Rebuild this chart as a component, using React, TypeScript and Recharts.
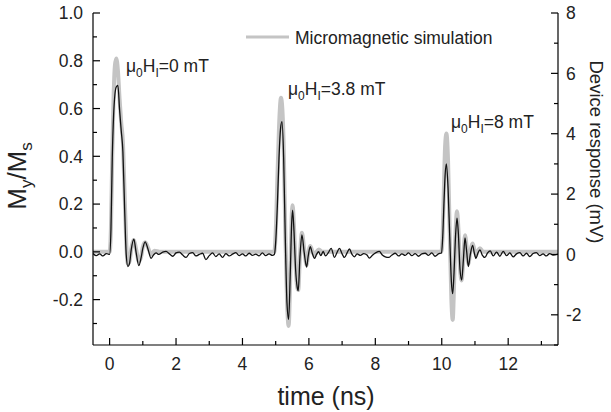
import { LineChart, Line, XAxis, YAxis } from 'recharts';

const FONT = '"Liberation Sans", Arial, Helvetica, sans-serif';

// micromagnetic simulation, M_y/M_s (left axis)
const simTime = [
  -0.5, 0.0,
  0.04, 0.08, 0.12, 0.16, 0.2, 0.25, 0.3, 0.35, 0.4, 0.45, 0.5, 0.55, 0.6, 0.65, 0.73, 0.8, 0.88, 0.95, 1.0, 1.07, 1.15, 1.25, 1.35, 1.5,
  4.96, 5.0, 5.05, 5.1, 5.16, 5.2, 5.24, 5.29, 5.34, 5.39, 5.44, 5.48, 5.51, 5.55, 5.6, 5.65, 5.68, 5.73, 5.79, 5.86, 5.93, 5.98, 6.04, 6.1, 6.17, 6.23, 6.3, 6.4,
  9.99, 10.03, 10.07, 10.1, 10.14, 10.19, 10.24, 10.29, 10.33, 10.37, 10.41, 10.46, 10.5, 10.55, 10.6, 10.65, 10.7, 10.75, 10.8, 10.86, 10.93, 10.98, 11.03, 11.09, 11.15, 11.25,
  13.5,
];
const simMy = [
  0, 0,
  0.1, 0.4, 0.65, 0.78, 0.81, 0.76, 0.64, 0.54, 0.46, 0.25, 0.04, -0.05, -0.04, 0.01, 0.05, 0.01, -0.04, -0.02, 0.02, 0.04, 0.02, -0.01, 0.005, 0,
  0, 0.08, 0.3, 0.52, 0.645, 0.6, 0.45, 0.08, -0.2, -0.31, -0.1, 0.14, 0.195, 0.11, -0.06, -0.15, -0.16, -0.02, 0.08, 0.01, -0.055, -0.01, 0.025, 0.005, -0.015, 0, 0.01, 0,
  0, 0.08, 0.3, 0.44, 0.495, 0.38, 0.08, -0.2, -0.285, -0.14, 0.06, 0.17, 0.1, -0.07, -0.12, -0.03, 0.07, 0.02, -0.05, 0, 0.035, 0.01, -0.015, 0.005, 0.015, 0,
  0,
];

// measured device response, mV (right axis)
const devTime = [
  -0.5, -0.4, -0.3, -0.2, -0.1, 0.0,
  0.04, 0.08, 0.12, 0.16, 0.2, 0.25, 0.3, 0.35, 0.4, 0.45, 0.5, 0.55, 0.6, 0.65, 0.73, 0.8, 0.88, 0.95, 1.0, 1.07, 1.15, 1.25, 1.32, 1.4, 1.48,
  1.6, 1.7, 1.8, 1.9, 2.0, 2.1, 2.2, 2.3, 2.4, 2.5, 2.6, 2.7, 2.8, 2.9, 3.0, 3.1, 3.2, 3.3, 3.4, 3.5, 3.6, 3.7, 3.8, 3.9, 4.0, 4.1, 4.2, 4.3, 4.4, 4.5, 4.6, 4.7, 4.8, 4.9,
  4.96, 5.0, 5.05, 5.1, 5.15, 5.19, 5.24, 5.29, 5.34, 5.39, 5.44, 5.48, 5.51, 5.55, 5.6, 5.65, 5.68, 5.73, 5.79, 5.86, 5.93, 5.98, 6.04, 6.1, 6.17, 6.23, 6.29, 6.36,
  6.43, 6.5, 6.58, 6.67, 6.77, 6.84, 6.92, 7.0, 7.07, 7.15, 7.22, 7.3, 7.37, 7.45, 7.55, 7.65, 7.75, 7.82, 7.92, 8.02, 8.12, 8.22, 8.3, 8.4,
  8.5, 8.6, 8.7, 8.8, 8.9, 9.0, 9.1, 9.2, 9.3, 9.4, 9.5, 9.6, 9.7, 9.8, 9.9,
  9.99, 10.03, 10.07, 10.1, 10.14, 10.19, 10.24, 10.29, 10.33, 10.37, 10.41, 10.46, 10.5, 10.55, 10.6, 10.65, 10.7, 10.75, 10.8, 10.86, 10.93, 10.98, 11.03, 11.09, 11.15, 11.22,
  11.3, 11.38, 11.46, 11.55, 11.65, 11.75, 11.85, 11.95, 12.05, 12.15, 12.25, 12.35, 12.45, 12.55, 12.65, 12.75, 12.85, 12.95, 13.05, 13.15, 13.25, 13.35, 13.5,
];
const devMv = [
  0.03, -0.04, 0.02, -0.05, 0.03, 0.0,
  0.8, 3.2, 4.6, 5.3, 5.55, 5.6, 4.8, 4.1, 3.4, 1.6, 0.0, -0.4, -0.3, 0.15, 0.51, 0.05, -0.37, -0.1, 0.2, 0.42, 0.2, -0.13, -0.02, 0.05, 0.0,
  0.08, 0.1, 0.02, -0.06, 0.05, 0.08, -0.02, -0.1, 0.03, 0.06, -0.05, 0.0, 0.04, -0.17, -0.04, 0.05, -0.07, 0.02, -0.1, 0.03, -0.05, 0.01, 0.06, -0.04, 0.02, -0.05, 0.04, -0.03, 0.01, -0.05, 0.05, -0.04, 0.02, -0.03,
  0.0, 0.4, 1.6, 3.2, 4.2, 4.4, 3.2, 0.5, -1.6, -2.15, -0.6, 1.0, 1.47, 0.8, -0.5, -1.1, -1.2, -0.1, 0.65, 0.05, -0.42, -0.05, 0.26, 0.05, -0.13, 0.0, 0.09, -0.04,
  0.1, -0.05, 0.05, 0.2, -0.1, 0.05, 0.2, 0.02, -0.1, 0.05, 0.18, 0.0, -0.08, 0.02, -0.03, 0.03, -0.02, -0.12, -0.02, 0.06, 0.1, -0.03, -0.08, -0.1,
  -0.02, 0.04, -0.05, 0.02, -0.03, 0.05, -0.04, 0.03, -0.06, 0.02, 0.04, -0.03, 0.05, -0.06, 0.02,
  0.05, 0.6, 1.8, 2.6, 3.0, 2.2, 0.6, -0.9, -1.3, -0.6, 0.5, 1.2, 0.7, -0.5, -0.85, -0.2, 0.55, 0.1, -0.4, 0.0, 0.3, 0.05, -0.13, 0.05, 0.15, -0.02,
  -0.1, 0.05, 0.12, -0.05, 0.08, -0.06, 0.1, -0.04, 0.05, -0.08, 0.02, 0.06, -0.05, 0.04, -0.07, 0.03, 0.06, -0.04, 0.02, -0.05, 0.03, -0.02, 0.01,
];

const xTicks = [0, 1, 2, 3, 4, 5, 6, 7, 8, 9, 10, 11, 12, 13];
const leftTicks = [-0.3, -0.2, -0.1, 0, 0.1, 0.2, 0.3, 0.4, 0.5, 0.6, 0.7, 0.8, 0.9, 1.0];
const rightTicks = [-3, -2, -1, 0, 1, 2, 3, 4, 5, 6, 7, 8];

const simData = simTime.map((t, i) => ({ t, my: simMy[i] }));
const devData = devTime.map((t, i) => ({ t, mv: devMv[i] }));

const tickFont = { fontSize: 17.5, fontFamily: FONT, fill: '#222' };

function BottomTick({ x, y, payload }: any) {
  const v = payload.value;
  const major = v % 2 === 0;
  return (
    <g>
      <line x1={x} x2={x} y1={y} y2={y - (major ? 7 : 4)} stroke="#000" strokeWidth={1.2} />
      {major && (
        <text x={x} y={y + 25} textAnchor="middle" {...tickFont}>
          {v}
        </text>
      )}
    </g>
  );
}

function TopTick({ x, y, payload }: any) {
  const major = payload.value % 2 === 0;
  return <line x1={x} x2={x} y1={y} y2={y + (major ? 7 : 4)} stroke="#000" strokeWidth={1.2} />;
}

function LeftTick({ x, y, payload }: any) {
  const v = payload.value;
  const major = Math.abs(Math.round(v * 10)) % 2 === 0;
  return (
    <g>
      <line x1={x} x2={x + (major ? 7 : 4)} y1={y} y2={y} stroke="#000" strokeWidth={1.2} />
      {major && (
        <text x={x - 10} y={y} dy="0.36em" textAnchor="end" {...tickFont}>
          {v.toFixed(1)}
        </text>
      )}
    </g>
  );
}

function RightTick({ x, y, payload }: any) {
  const v = payload.value;
  const major = Math.abs(v) % 2 === 0;
  return (
    <g>
      <line x1={x} x2={x - (major ? 7 : 4)} y1={y} y2={y} stroke="#000" strokeWidth={1.2} />
      {major && (
        <text x={x + 8} y={y} dy="0.36em" textAnchor="start" {...tickFont}>
          {v}
        </text>
      )}
    </g>
  );
}

function FieldLabel({ x, y, value }: { x: number; y: number; value: string }) {
  return (
    <text x={x} y={y} fontSize={17.5} fontFamily={FONT} fill="#222">
      μ
      <tspan fontSize={12} dy={5}>0</tspan>
      <tspan dy={-5}>H</tspan>
      <tspan fontSize={12} dy={5}>I</tspan>
      <tspan dy={-5}>={value} mT</tspan>
    </text>
  );
}

export default function App() {
  return (
    <div style={{ position: 'absolute', left: 0, top: 0, width: 611, height: 412, background: '#fff' }}>
      <LineChart width={611} height={412} margin={{ top: 13, right: 0, bottom: 0, left: 0 }}>
        <XAxis
          xAxisId="bottom"
          dataKey="t"
          type="number"
          domain={[-0.5, 13.5]}
          ticks={xTicks}
          interval={0}
          height={67}
          tickSize={0}
          tickMargin={0}
          tick={<BottomTick />}
          axisLine={{ stroke: '#000', strokeWidth: 1.2 }}
          tickLine={false}
          allowDataOverflow
        />
        <XAxis
          xAxisId="top"
          orientation="top"
          dataKey="t"
          type="number"
          domain={[-0.5, 13.5]}
          ticks={xTicks}
          interval={0}
          height={0}
          tickSize={0}
          tickMargin={0}
          tick={<TopTick />}
          axisLine={{ stroke: '#000', strokeWidth: 1.2 }}
          tickLine={false}
          allowDataOverflow
        />
        <YAxis
          yAxisId="left"
          type="number"
          domain={[-0.39, 1]}
          ticks={leftTicks}
          interval={0}
          width={93}
          tickSize={0}
          tickMargin={0}
          tick={<LeftTick />}
          axisLine={{ stroke: '#000', strokeWidth: 1.2 }}
          tickLine={false}
          allowDataOverflow
        />
        <YAxis
          yAxisId="right"
          orientation="right"
          type="number"
          domain={[-3, 8]}
          ticks={rightTicks}
          interval={0}
          width={53}
          tickSize={0}
          tickMargin={0}
          tick={<RightTick />}
          axisLine={{ stroke: '#000', strokeWidth: 1.2 }}
          tickLine={false}
          allowDataOverflow
        />
        <Line
          data={simData}
          dataKey="my"
          xAxisId="bottom"
          yAxisId="left"
          type="monotone"
          stroke="#c4c4c4"
          strokeWidth={4}
          dot={false}
          isAnimationActive={false}
        />
        <Line
          data={devData}
          dataKey="mv"
          xAxisId="bottom"
          yAxisId="right"
          type="monotone"
          stroke="#111"
          strokeWidth={1.3}
          dot={false}
          isAnimationActive={false}
        />
      </LineChart>
      <svg width={611} height={412} style={{ position: 'absolute', left: 0, top: 0, pointerEvents: 'none' }}>
        <line x1={246} x2={289} y1={37} y2={37} stroke="#c4c4c4" strokeWidth={3} />
        <text x={295} y={44} fontSize={17.5} fontFamily={FONT} fill="#222">
          Micromagnetic simulation
        </text>
        <FieldLabel x={126} y={72} value="0" />
        <FieldLabel x={288} y={95} value="3.8" />
        <FieldLabel x={451} y={128} value="8" />
        <text x={326} y={405} textAnchor="middle" fontSize={25} fontFamily={FONT} fill="#222">
          time (ns)
        </text>
        <text transform="translate(26,176) rotate(-90)" textAnchor="middle" fontSize={26} fontFamily={FONT} fill="#222">
          M<tspan fontSize={17} dy={6}>y</tspan>
          <tspan dy={-6}>/M</tspan>
          <tspan fontSize={17} dy={6}>s</tspan>
        </text>
        <text transform="translate(590,152) rotate(90)" textAnchor="middle" fontSize={18.5} fontFamily={FONT} fill="#222">
          Device response (mV)
        </text>
      </svg>
    </div>
  );
}
